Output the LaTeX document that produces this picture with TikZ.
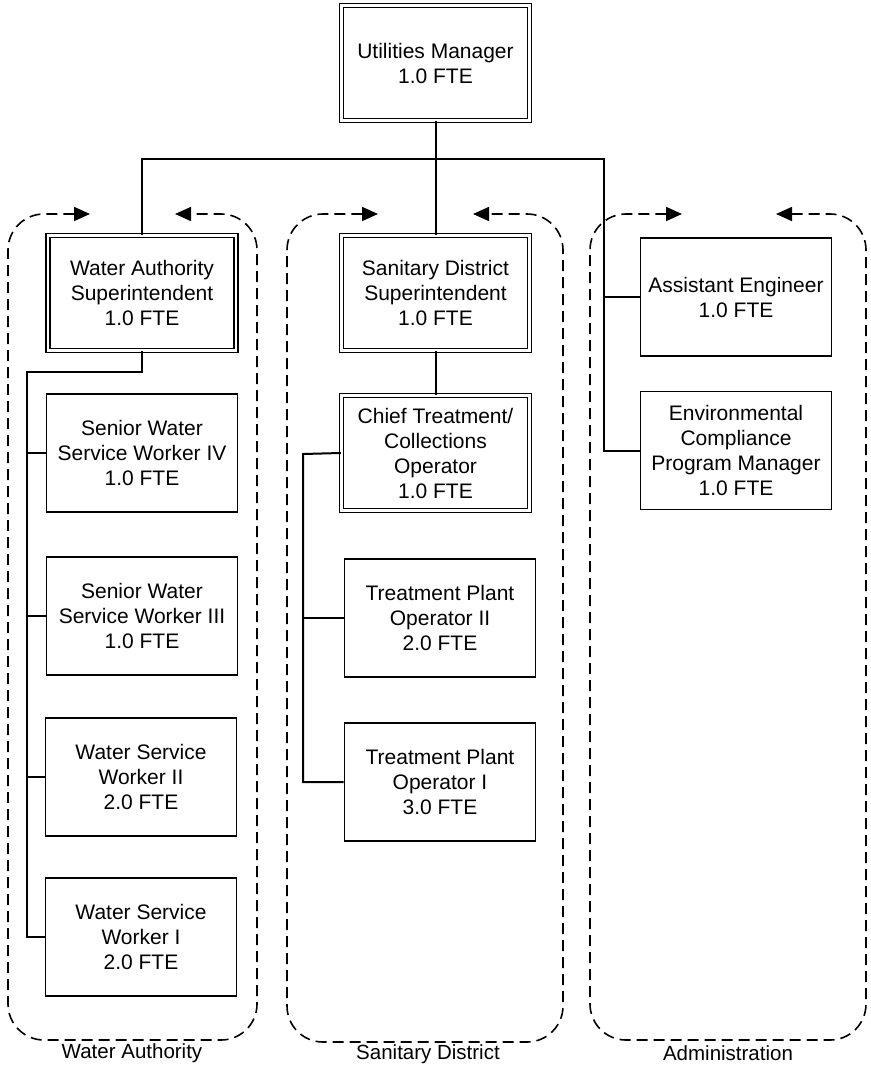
\documentclass[tikz,border=0pt]{standalone}
\usepackage{fontspec}
\setmainfont{Liberation Sans}
\usetikzlibrary{positioning, arrows.meta}

\begin{document}
\begin{tikzpicture}[x=1pt, y=-1pt,
    every node/.style={font=\fontsize{21}{25}\selectfont},
    post/.style={draw, line width=1.9pt, minimum width=191pt, minimum height=118pt,
                 align=center, inner sep=2pt},
    lead/.style={post, double, line width=1.4pt, double distance=2.4pt,
                 minimum width=188pt, minimum height=115pt},
    conn/.style={line width=2pt},
    group/.style={line width=1.6pt, dash pattern=on 11pt off 6pt, rounded corners=36pt,
                  {Triangle[length=16pt,width=14pt]}-{Triangle[length=16pt,width=14pt]}},
    grouplbl/.style={font=\fontsize{20.5}{24}\selectfont}]
  \useasboundingbox (0,0) rectangle (870,1067);

  % dashed groups
  \draw[group] (90,214) -- (8,214) -- (8,1040) -- (257,1040) -- (257,214) -- (175,214);
  \draw[group] (378,214) -- (287,214) -- (287,1042) -- (563,1042) -- (563,214) -- (473,214);
  \draw[group] (682,214) -- (590,214) -- (590,1040) -- (866,1040) -- (866,214) -- (776,214);
  \node[grouplbl] (walbl) at (132,1053) {Water Authority};
  \node[grouplbl] (sdlbl) at (428,1054) {Sanitary District};
  \node[grouplbl] (adlbl) at (728,1053) {Administration};

  % positions
  \node[lead] (um) at (435.5,63) {Utilities Manager\\1.0 FTE};
  \node[lead] (was) at (142,293) {Water Authority\\Superintendent\\1.0 FTE};
  \node[lead] (sds) at (435.5,293) {Sanitary District\\Superintendent\\1.0 FTE};
  \node[lead] (ctco) at (435.5,453) {Chief Treatment/\\Collections\\Operator\\1.0 FTE};
  \node[post] (ae) at (736,297) {Assistant Engineer\\1.0 FTE};
  \node[post] (ecpm) at (736,450.5) {Environmental\\Compliance\\Program Manager\\1.0 FTE};
  \node[post] (sw4) at (142,453) {Senior Water\\Service Worker IV\\1.0 FTE};
  \node[post] (sw3) at (142,616) {Senior Water\\Service Worker III\\1.0 FTE};
  \node[post] (ws2) at (141,777) {Water Service\\Worker II\\2.0 FTE};
  \node[post] (ws1) at (141,937) {Water Service\\Worker I\\2.0 FTE};
  \node[post] (tpo2) at (440,618) {Treatment Plant\\Operator II\\2.0 FTE};
  \node[post] (tpo1) at (440,782) {Treatment Plant\\Operator I\\3.0 FTE};

  % reporting lines
  \coordinate (bus) at (604,159);
  \coordinate (wabus) at (27,372);
  \coordinate (sdbus) at (303,454);
  \draw[conn] (um.south) -- (sds.north);
  \draw[conn] (was.north) |- (bus) |- (ae.west);
  \draw[conn] (bus) |- (ecpm.west);
  \draw[conn] (was.south) |- (wabus) |- (ws1.west);
  \draw[conn] (wabus) |- (sw4.west);
  \draw[conn] (wabus) |- (sw3.west);
  \draw[conn] (wabus) |- (ws2.west);
  \draw[conn] (sds.south) -- (ctco.north);
  \draw[conn] (ctco.west) -- (sdbus) |- (tpo1.west);
  \draw[conn] (sdbus) |- (tpo2.west);
\end{tikzpicture}
\end{document}
